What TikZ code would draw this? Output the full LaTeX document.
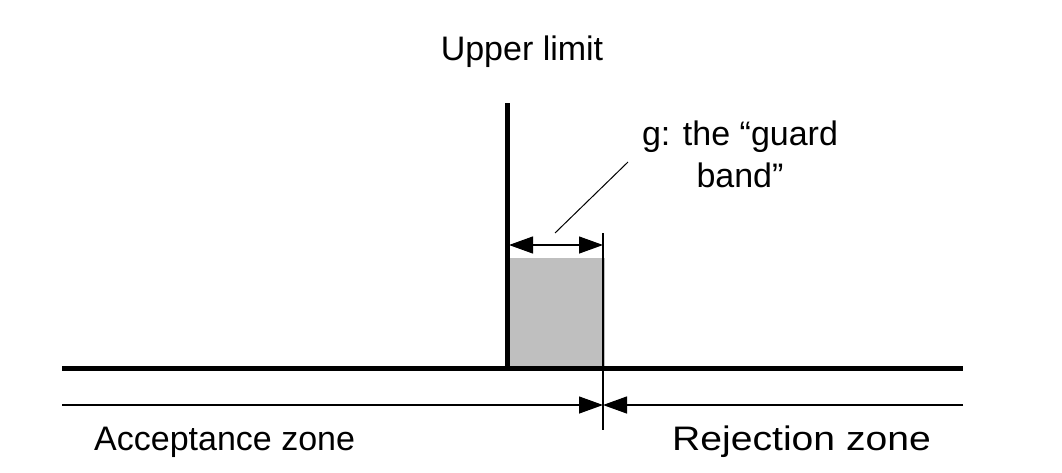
\documentclass[tikz,border=0pt]{standalone}
\usepackage{fontspec}
\setmainfont{Liberation Sans}
\usetikzlibrary{arrows.meta}
\begin{document}
\begin{tikzpicture}[x=1pt,y=-1pt,
  lbl/.style={font=\fontsize{34}{42}\selectfont, inner sep=0pt},
  thick/.style={line width=5pt},
  thin/.style={line width=1.3pt},
  hd/.tip={Triangle[length=24pt,width=17pt]},
  tip/.style={-hd}]
\useasboundingbox (0,0) rectangle (1062,472);
\fill[gray!50] (509,258) rectangle (605,367);
\coordinate (hl) at (62,368); \coordinate (hr) at (963,368);
\coordinate (vt) at (507,103); \coordinate (vb) at (507,370);
\draw[thick] (hl) -- (hr);
\draw[thick] (vt) -- (vb);
\coordinate (gt) at (603,233); \coordinate (gb) at (603,430);
\draw[thin] (gt) -- (gb);
\coordinate (al) at (509,245); \coordinate (ar) at (603,245);
\draw[thin,hd-hd] (al) -- (ar);
\coordinate (ll) at (555,233); \coordinate (lu) at (628,162);
\draw[line width=1pt] (ll) -- (lu);
\coordinate (tl) at (62,405); \coordinate (tr) at (963,405);
\coordinate (tm) at (603,405);
\draw[thin,tip] (tl) -- (tm);
\draw[thin,tip] (tr) -- (tm);
\node[lbl] (ul) at (522,52) {Upper limit};
\node[lbl,align=center,anchor=north] (g) at (740,121) {g: the “guard\\band”};
\node[lbl,anchor=west] (acc) at (94,442) {Acceptance zone};
\node[lbl,anchor=west] (rej) at (672,442) {\scalebox{1.15}[1]{Rejection zone}};
\end{tikzpicture}
\end{document}
